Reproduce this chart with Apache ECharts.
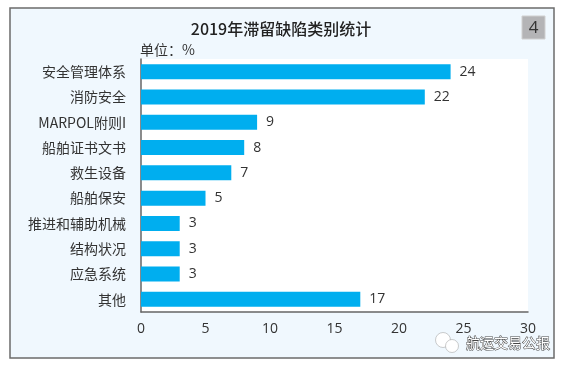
<!DOCTYPE html>
<html>
<head>
<meta charset="utf-8">
<style>
  html, body { margin: 0; padding: 0; background: #fff; }
  #chart { width: 567px; height: 369px; }
</style>
</head>
<body>
<div id="chart"></div>
<script src="https://cdn.jsdelivr.net/npm/echarts@6/dist/echarts.min.js"></script>
<script>
const categories = ['安全管理体系', '消防安全', 'MARPOL附则I', '船舶证书文书', '救生设备', '船舶保安', '推进和辅助机械', '结构状况', '应急系统', '其他'];
const values = [24, 22, 9, 8, 7, 5, 3, 3, 3, 17];
const xTicks = { min: 0, max: 30, interval: 5 };

const font = '"Noto Sans CJK SC", "Open Sans", sans-serif';
const chart = echarts.init(document.getElementById('chart'), null, { renderer: 'canvas' });

chart.setOption({
    animation: false,
    backgroundColor: '#fff',
    textStyle: { fontFamily: font },
    grid: {
        left: 141, right: 39, top: 59, bottom: 57,
        show: true, backgroundColor: '#fff', borderWidth: 0
    },
    xAxis: {
        type: 'value',
        min: xTicks.min, max: xTicks.max, interval: xTicks.interval,
        axisLine: { show: true, lineStyle: { color: '#666', width: 1.5 } },
        axisTick: { show: false },
        splitLine: { show: false },
        axisLabel: { color: '#333', fontSize: 14, fontFamily: '"Open Sans", sans-serif', margin: 10 }
    },
    yAxis: {
        type: 'category',
        inverse: true,
        data: categories,
        axisLine: { show: true, lineStyle: { color: '#666', width: 1.5 } },
        axisTick: { show: false },
        axisLabel: { color: '#333', fontSize: 14, margin: 15 }
    },
    series: [{
        type: 'bar',
        data: values,
        barWidth: 15,
        itemStyle: { color: '#00aeef' },
        label: {
            show: true, position: 'right', distance: 9,
            color: '#333', fontSize: 14, fontFamily: '"Open Sans", sans-serif'
        },
        z: 3
    }],
    graphic: [
        // outer frame
        { type: 'rect', z: -10, silent: true, shape: { x: 10, y: 8, width: 544, height: 350 },
          style: { fill: '#f0f8fe', stroke: '#6b6b6b', lineWidth: 1.5 } },
        { type: 'text', x: 281, y: 29, z: 5, silent: true,
          style: { text: '2019年滞留缺陷类别统计', font: '500 16px ' + font, fill: '#222', align: 'center', verticalAlign: 'middle' } },
        { type: 'text', x: 140, y: 50, z: 5, silent: true,
          style: { text: '单位：%', font: '14px ' + font, fill: '#333', verticalAlign: 'middle' } },
        // number badge
        { type: 'rect', z: 5, silent: true, shape: { x: 522, y: 16, width: 23, height: 23 },
          style: { fill: '#b4b4b6', stroke: '#d0d0d0', lineWidth: 1 } },
        { type: 'text', x: 533.5, y: 28, z: 6, silent: true,
          style: { text: '4', font: '17px "Open Sans", sans-serif', fill: '#333', align: 'center', verticalAlign: 'middle' } },
        // watermark
        { type: 'circle', z: 6, silent: true, shape: { cx: 443, cy: 340, r: 7.5 }, style: { fill: '#fff', stroke: '#999', lineWidth: 0.5 } },
        { type: 'circle', z: 6, silent: true, shape: { cx: 452, cy: 346, r: 6.5 }, style: { fill: '#fff', stroke: '#999', lineWidth: 0.5 } },
        { type: 'text', x: 466, y: 343, z: 6, silent: true,
          style: { text: '航运交易公报', font: '14px ' + font, fill: '#fff', stroke: '#444', lineWidth: 1, verticalAlign: 'middle' } }
    ]
});
</script>
</body>
</html>
